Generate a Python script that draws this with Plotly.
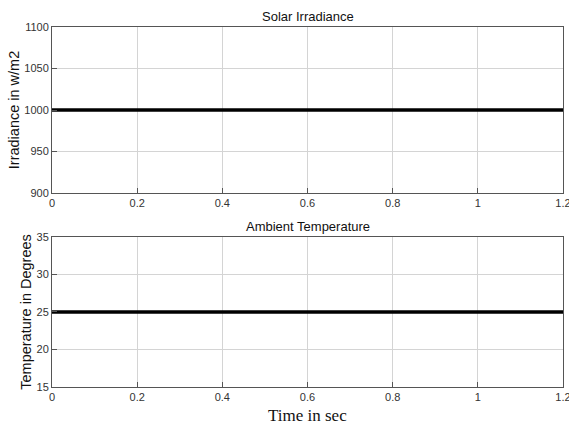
import plotly.graph_objects as go

time_s = [0, 0.2, 0.4, 0.6, 0.8, 1.0, 1.2]
irradiance = [1000, 1000, 1000, 1000, 1000, 1000, 1000]
temperature = [25, 25, 25, 25, 25, 25, 25]
x_ticks = [0, 0.2, 0.4, 0.6, 0.8, 1, 1.2]
x_tick_text = ["0", "0.2", "0.4", "0.6", "0.8", "1", "1.2"]
irr_ticks = [900, 950, 1000, 1050, 1100]
temp_ticks = [15, 20, 25, 30, 35]

fig = go.Figure()
fig.add_trace(go.Scatter(x=time_s, y=irradiance, mode="lines",
                         line=dict(color="black", width=3.5), xaxis="x", yaxis="y", showlegend=False))
fig.add_trace(go.Scatter(x=time_s, y=temperature, mode="lines",
                         line=dict(color="black", width=3.5), xaxis="x2", yaxis="y2", showlegend=False))

sans = "Liberation Sans, Arial, sans-serif"
tickfont = dict(family=sans, size=11, color="#333")
axis_common = dict(showline=True, linecolor="#555", linewidth=1, mirror=True,
                   ticks="inside", ticklen=5, tickcolor="#555",
                   showgrid=True, gridcolor="#d4d4d4", gridwidth=1,
                   zeroline=False, tickfont=tickfont, automargin=False,
                   ticklabeloverflow="allow")

top_dom = [0.5389, 1]
bot_dom = [0, 0.4167]

fig.update_layout(
    width=569, height=427,
    margin=dict(l=52, r=6, t=27, b=40),
    paper_bgcolor="white", plot_bgcolor="white",
    xaxis=dict(domain=[0, 1], anchor="y", range=[0, 1.2], tickvals=x_ticks, ticktext=x_tick_text, **axis_common),
    yaxis=dict(domain=top_dom, anchor="x", range=[900, 1100], tickvals=irr_ticks,
               title=dict(text="Irradiance in w/m2", standoff=1,
                          font=dict(family=sans, size=14.5, color="#111")),
               **axis_common),
    xaxis2=dict(domain=[0, 1], anchor="y2", range=[0, 1.2], tickvals=x_ticks, ticktext=x_tick_text,
                **axis_common),
    yaxis2=dict(domain=bot_dom, anchor="x2", range=[15, 35], tickvals=temp_ticks,
                title=dict(text="Temperature in Degrees", standoff=1,
                           font=dict(family=sans, size=14.5, color="#111")),
                **axis_common),
    annotations=[
        dict(text="Solar Irradiance", x=0.5, y=top_dom[1], xref="paper", yref="paper", xanchor="center",
             yanchor="bottom", yshift=1, showarrow=False,
             font=dict(family=sans, size=13, color="#111")),
        dict(text="Ambient Temperature", x=0.5, y=bot_dom[1], xref="paper", yref="paper", xanchor="center",
             yanchor="bottom", yshift=1, showarrow=False,
             font=dict(family=sans, size=13, color="#111")),
        dict(text="Time in sec", x=0.5, y=0, xref="paper", yref="paper", xanchor="center",
             yanchor="top", yshift=-17, showarrow=False,
             font=dict(family="Liberation Serif, Times New Roman, serif", size=17, color="#111")),
    ],
)

fig.write_html("out.html", config={"displayModeBar": False},
               post_script="document.body.style.margin='0px';")
